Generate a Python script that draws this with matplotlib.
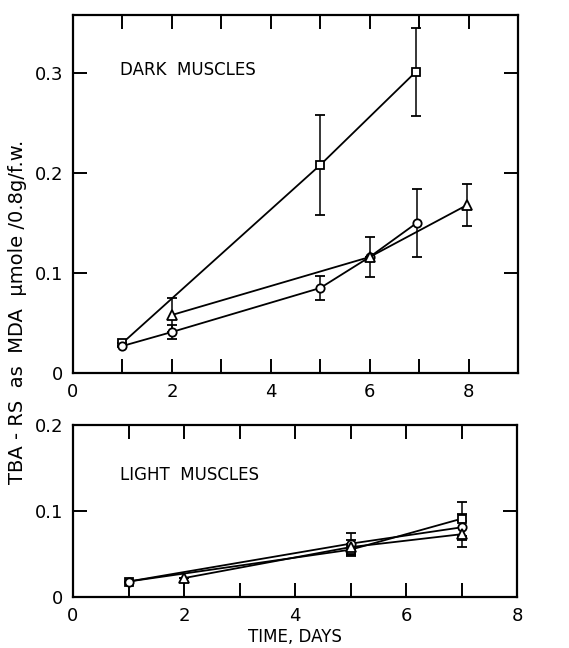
import matplotlib
matplotlib.use("Agg")
import matplotlib.pyplot as plt
from matplotlib.ticker import MultipleLocator

# dark muscles
dark_sq_x = [1, 5, 6.93]
dark_sq_y = [0.030, 0.208, 0.301]
dark_sq_err = [0.0, 0.050, 0.044]
dark_ci_x = [1, 2, 5, 6, 6.95]
dark_ci_y = [0.027, 0.041, 0.085, 0.116, 0.150]
dark_ci_err = [0.0, 0.007, 0.012, 0.0, 0.034]
dark_tr_x = [2, 6, 7.97]
dark_tr_y = [0.058, 0.116, 0.168]
dark_tr_err = [0.017, 0.020, 0.021]

# light muscles
light_sq_x = [1, 5, 7]
light_sq_y = [0.018, 0.055, 0.091]
light_sq_err = [0.0, 0.007, 0.020]
light_ci_x = [1, 5, 7]
light_ci_y = [0.018, 0.062, 0.081]
light_ci_err = [0.0, 0.013, 0.015]
light_tr_x = [2, 5, 7]
light_tr_y = [0.022, 0.058, 0.073]
light_tr_err = [0.0, 0.008, 0.015]

plt.rcParams['font.family'] = ['DejaVu Sans']

fig = plt.figure(figsize=(5.69, 6.48), dpi=100)
W, H = 569, 648
ax1 = fig.add_axes([73 / W, 1 - 373 / H, 445 / W, 358 / H])
ax2 = fig.add_axes([73 / W, 1 - 597 / H, 444 / W, 172 / H])


def series(ax, x, y, err, marker, ms):
    ax.errorbar(x, y, yerr=err, fmt='-', color='black', lw=1.3, elinewidth=1.1,
                capsize=3.5, capthick=1.1, marker=marker, ms=ms,
                mfc='white', mec='black', mew=1.3, zorder=3)


series(ax1, dark_sq_x, dark_sq_y, dark_sq_err, 's', 6)
series(ax1, dark_ci_x, dark_ci_y, dark_ci_err, 'o', 6)
series(ax1, dark_tr_x, dark_tr_y, dark_tr_err, '^', 7)

series(ax2, light_sq_x, light_sq_y, light_sq_err, 's', 6)
series(ax2, light_ci_x, light_ci_y, light_ci_err, 'o', 6)
series(ax2, light_tr_x, light_tr_y, light_tr_err, '^', 7)

ax1.set_xlim(0, 9)
ax1.set_ylim(0, 0.358)
ax1.set_xticks([0, 2, 4, 6, 8])
ax1.set_xticklabels(['0', '2', '4', '6', '8'])
ax1.xaxis.set_minor_locator(MultipleLocator(1))
ax1.set_yticks([0, 0.1, 0.2, 0.3])
ax1.set_yticklabels(['0', '0.1', '0.2', '0.3'])

ax2.set_xlim(0, 8)
ax2.set_ylim(0, 0.2)
ax2.set_xticks([0, 2, 4, 6, 8])
ax2.set_xticklabels(['0', '2', '4', '6', '8'])
ax2.xaxis.set_minor_locator(MultipleLocator(1))
ax2.set_yticks([0, 0.1, 0.2])
ax2.set_yticklabels(['0', '0.1', '0.2'])

for ax in (ax1, ax2):
    for s in ax.spines.values():
        s.set_linewidth(1.6)
    ax.tick_params(which='both', direction='in', top=True, right=True,
                   labelsize=13, width=1.4, pad=7)
    ax.tick_params(which='major', length=10)
    ax.tick_params(which='minor', length=10)

ax1.text(0.95, 0.303, 'DARK  MUSCLES', fontsize=12, va='center', ha='left')
ax2.text(0.85, 0.142, 'LIGHT  MUSCLES', fontsize=12, va='center', ha='left')
ax2.set_xlabel('TIME, DAYS', fontsize=12, labelpad=2)

fig.text(18 / W, 1 - 312 / H, 'TBA - RS  as  MDA  \u03bcmole /0.8g/f.w.',
         rotation=90, fontsize=14, ha='center', va='center')

fig.savefig('out.png', dpi=100)
